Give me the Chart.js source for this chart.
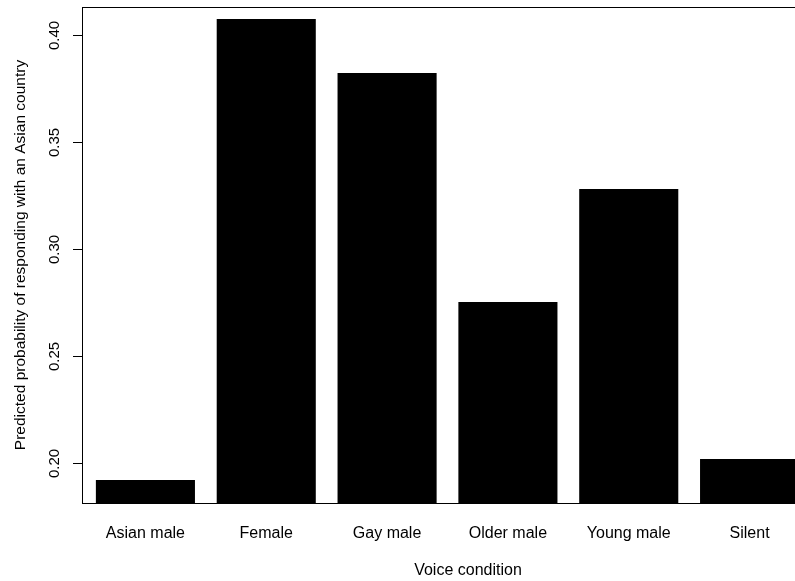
<!DOCTYPE html>
<html>
<head>
<meta charset="utf-8">
<script src="https://cdn.jsdelivr.net/npm/chart.js@4/dist/chart.umd.min.js"></script>
<style>
  html, body { margin: 0; padding: 0; background: #fff; overflow: hidden; }
  #wrap { width: 830px; height: 581px; }
</style>
</head>
<body>
<div id="wrap"><canvas id="c" width="830" height="581"></canvas></div>
<script>
const categories = ['Asian male', 'Female', 'Gay male', 'Older male', 'Young male', 'Silent'];
const probabilities = [0.1922, 0.4075, 0.3823, 0.2753, 0.3281, 0.2020];
const yTickValues = [0.20, 0.25, 0.30, 0.35, 0.40];
const yTickLabels = ['0.20', '0.25', '0.30', '0.35', '0.40'];
const yMin = 0.1815;
const yMax = 0.4131;
const xTitle = 'Voice condition';
const yTitle = 'Predicted probability of responding with an Asian country';

const FONT = 'Liberation Sans, Arial, Helvetica, sans-serif';

const framePlugin = {
  id: 'rframe',
  afterDraw(chart) {
    const ctx = chart.ctx;
    const area = chart.chartArea;
    const ys = chart.scales.y;
    const left = area.left - 3;
    ctx.save();
    ctx.strokeStyle = '#000';
    ctx.lineWidth = 1;
    // frame: left, top, bottom (right edge lies outside the visible window)
    ctx.beginPath();
    ctx.moveTo(left + 0.5, area.top + 0.5);
    ctx.lineTo(left + 0.5, area.bottom + 0.5);
    ctx.moveTo(left, area.top + 0.5);
    ctx.lineTo(chart.width, area.top + 0.5);
    ctx.moveTo(left, area.bottom + 0.5);
    ctx.lineTo(chart.width, area.bottom + 0.5);
    ctx.stroke();
    // y ticks and rotated labels
    ctx.fillStyle = '#000';
    ctx.font = '15px ' + FONT;
    ctx.textAlign = 'center';
    ctx.textBaseline = 'middle';
    yTickValues.forEach((v, i) => {
      const y = Math.round(ys.getPixelForValue(v)) + 0.5;
      ctx.beginPath();
      ctx.moveTo(left - 9, y);
      ctx.lineTo(left + 0.5, y);
      ctx.stroke();
      ctx.save();
      ctx.translate(55, y);
      ctx.rotate(-Math.PI / 2);
      ctx.fillText(yTickLabels[i], 0, 0);
      ctx.restore();
    });
    // x axis title
    ctx.font = '16px ' + FONT;
    ctx.textBaseline = 'middle';
    ctx.fillText(xTitle, 468, 571);
    ctx.restore();
  }
};

new Chart(document.getElementById('c'), {
  type: 'bar',
  data: {
    labels: categories,
    datasets: [{
      data: probabilities,
      backgroundColor: '#000',
      borderWidth: 0,
      barPercentage: 0.82,
      categoryPercentage: 1.0
    }]
  },
  options: {
    responsive: false,
    animation: false,
    devicePixelRatio: 1,
    layout: { padding: { top: 7, right: 20, bottom: 0, left: 0 } },
    plugins: { legend: { display: false }, tooltip: { enabled: false } },
    scales: {
      x: {
        type: 'category',
        offset: true,
        grid: { display: false, drawTicks: false, tickLength: 0 },
        border: { display: false },
        ticks: { color: '#000', font: { family: FONT, size: 16 }, padding: 21, maxRotation: 0, autoSkip: false },
        afterFit(scale) { scale.height = 78; }
      },
      y: {
        type: 'linear',
        min: yMin,
        max: yMax,
        grid: { display: false, drawTicks: false },
        border: { display: false },
        ticks: { display: false },
        afterBuildTicks(scale) { scale.ticks = yTickValues.map(v => ({ value: v })); },
        title: { display: true, text: yTitle, color: '#000', font: { family: FONT, size: 15.5 }, padding: { top: 11, bottom: 0 } },
        afterFit(scale) { scale.width = 85; }
      }
    }
  },
  plugins: [framePlugin]
});
</script>
</body>
</html>
